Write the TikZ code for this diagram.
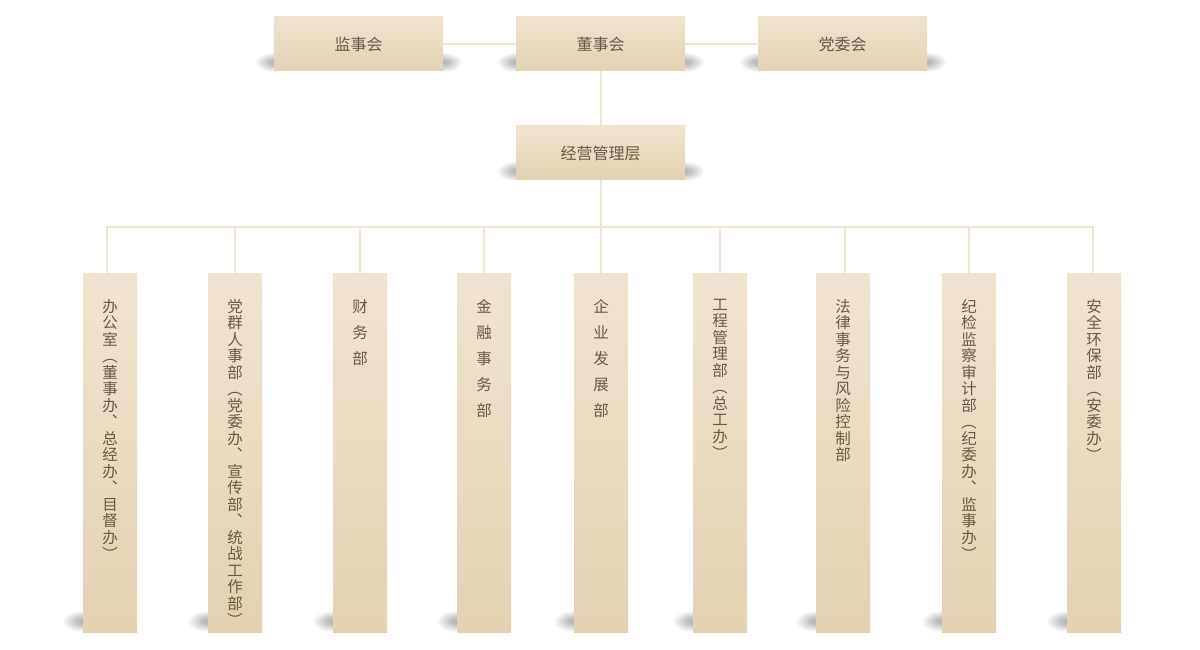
\documentclass[tikz,border=0pt]{standalone}
\usepackage{fontspec}
\usepackage{graphicx}
\newfontfamily\cjk{Noto Sans CJK SC}
\definecolor{boxtop}{HTML}{F0E4CF}
\definecolor{boxbot}{HTML}{E2D2B3}
\definecolor{txt}{HTML}{6A5A45}
\definecolor{ln}{HTML}{F0E4D2}
\pgfdeclareradialshading{myshadow}{\pgfpoint{0bp}{0bp}}{color(0bp)=(black!30); color(8bp)=(black!24); color(25bp)=(white); color(50bp)=(white)}
\newcommand\lp{\rotatebox[origin=c]{-90}{（}}
\newcommand\rp{\rotatebox[origin=c]{-90}{）}}
\tikzset{
  topbox/.style={rectangle, minimum width=169pt, minimum height=54pt, inner sep=0pt,
    top color=boxtop, bottom color=boxbot, text=txt, font=\cjk\fontsize{16}{18}\selectfont},
  colbox/.style={rectangle, minimum width=54pt, minimum height=359pt, inner sep=0pt,
    top color=boxtop, bottom color=boxbot, anchor=north},
  vtext/.style={align=center, inner sep=0pt, text=txt, anchor=north, font=\cjk\fontsize{15.5}{16.5}\selectfont},
  vtextw/.style={vtext, font=\cjk\fontsize{15.5}{26}\selectfont},
  conn/.style={draw=ln, line width=2pt},
  shd/.style={shading=myshadow}
}
\begin{document}
\begin{tikzpicture}[x=1pt,y=-1pt]
\useasboundingbox (0,0) rectangle (1200,650);
% shadows
\foreach \cx in {358.5,600.5,842.5}{
  \shade[shd] (\cx-84,62) ellipse [x radius=20, y radius=10];
  \shade[shd] (\cx+84,62) ellipse [x radius=20, y radius=10];
}
\shade[shd] (600.5-84,171) ellipse [x radius=20, y radius=10];
\shade[shd] (600.5+84,171) ellipse [x radius=20, y radius=10];
\foreach \cx in {110,235,360,484,601,720,843,969,1094}{
  \shade[shd] (\cx-27,621) ellipse [x radius=21, y radius=11];
}
% top level
\node[topbox] (jsh) at (358.5,44) {监事会};
\node[topbox] (dsh) at (600.5,44) {董事会};
\node[topbox] (dwh) at (842.5,44) {党委会};
\node[topbox] (jy)  at (600.5,153) {经营管理层};
% bus coordinates
\coordinate (bc) at (600.5,227);
\coordinate (b1) at (107,227);
\coordinate (b2) at (235,227);
\coordinate (b3) at (360,227);
\coordinate (b4) at (484,227);
\coordinate (b5) at (600.5,227);
\coordinate (b6) at (720,227);
\coordinate (b7) at (845,227);
\coordinate (b8) at (969,227);
\coordinate (b9) at (1093,227);
% columns
\node[colbox] (c1) at (110,273) {};
\node[colbox] (c2) at (235,273) {};
\node[colbox] (c3) at (360,273) {};
\node[colbox] (c4) at (484,273) {};
\node[colbox] (c5) at (601,273) {};
\node[colbox] (c6) at (720,273) {};
\node[colbox] (c7) at (843,273) {};
\node[colbox] (c8) at (969,273) {};
\node[colbox] (c9) at (1094,273) {};
% connectors
\draw[conn] (jsh.east) -- (dsh.west);
\draw[conn] (dsh.east) -- (dwh.west);
\draw[conn] (dsh.south) -- (jy.north);
\draw[conn] (jy.south) -- (bc);
\draw[conn] ([xshift=-1pt]b1) -- ([xshift=1pt]b9);
\foreach \i in {1,...,9}{
  \draw[conn] (b\i) -- (b\i |- c\i.north);
}
% texts
\node[vtext]  (t1) at ([yshift=-26pt]c1.north) {办\\公\\室\\\lp\\董\\事\\办\\︑\\总\\经\\办\\︑\\目\\督\\办\\\rp};
\node[vtext]  (t2) at ([yshift=-26pt]c2.north) {党\\群\\人\\事\\部\\\lp\\党\\委\\办\\︑\\宣\\传\\部\\︑\\统\\战\\工\\作\\部\\\rp};
\node[vtextw] (t3) at ([yshift=-26pt]c3.north) {财\\务\\部};
\node[vtextw] (t4) at ([yshift=-26pt]c4.north) {金\\融\\事\\务\\部};
\node[vtextw] (t5) at ([yshift=-26pt]c5.north) {企\\业\\发\\展\\部};
\node[vtext]  (t6) at ([yshift=-26pt]c6.north) {工\\程\\管\\理\\部\\\lp\\总\\工\\办\\\rp};
\node[vtext]  (t7) at ([yshift=-26pt]c7.north) {法\\律\\事\\务\\与\\风\\险\\控\\制\\部};
\node[vtext]  (t8) at ([yshift=-26pt]c8.north) {纪\\检\\监\\察\\审\\计\\部\\\lp\\纪\\委\\办\\︑\\监\\事\\办\\\rp};
\node[vtext]  (t9) at ([yshift=-26pt]c9.north) {安\\全\\环\\保\\部\\\lp\\安\\委\\办\\\rp};
\end{tikzpicture}
\end{document}
